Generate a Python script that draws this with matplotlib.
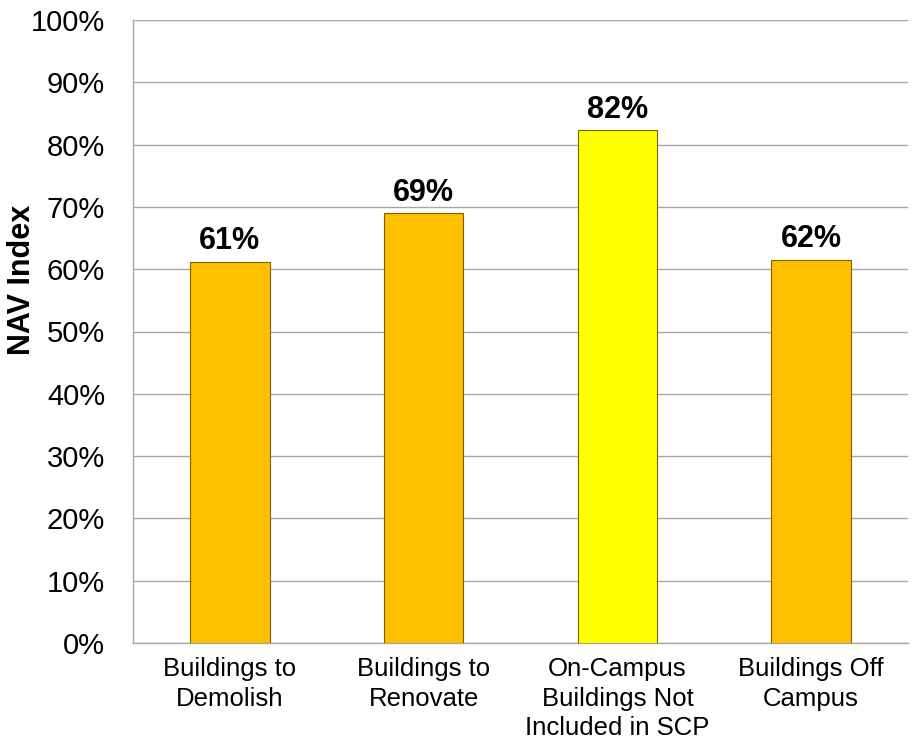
import numpy as np
import matplotlib.pyplot as plt
from matplotlib.ticker import PercentFormatter

plt.rcParams['font.family'] = 'Liberation Sans'

# Data
categories = ['Buildings to\nDemolish', 'Buildings to\nRenovate',
              'On-Campus\nBuildings Not\nIncluded in SCP', 'Buildings Off\nCampus']
nav_index = [61.2, 69.0, 82.3, 61.5]
bar_labels = ['61%', '69%', '82%', '62%']
bar_colors = ['#FFC000', '#FFC000', '#FFFF00', '#FFC000']

fig = plt.figure(figsize=(9.17, 7.39), dpi=100)
ax = fig.add_axes([133 / 917, 1 - 643 / 739, (908 - 133) / 917, (643 - 20) / 739])

positions = np.arange(len(categories))
bars = ax.bar(positions, nav_index, width=0.41, color=bar_colors,
              edgecolor='#7F6000', linewidth=0.8, zorder=3)

for b, lab in zip(bars, bar_labels):
    ax.text(b.get_x() + b.get_width() / 2, b.get_height() + 0.9, lab,
            ha='center', va='bottom', fontsize=22, fontweight='bold')

ax.set_xlim(-0.5, len(categories) - 0.5)
ax.set_ylim(0, 100)
ax.set_yticks(np.arange(0, 101, 10))
ax.yaxis.set_major_formatter(PercentFormatter(decimals=0))
ax.set_xticks(positions)
ax.set_xticklabels(categories, fontsize=18.5, linespacing=1.3)
ax.tick_params(axis='y', labelsize=21, length=0, pad=20)
ax.tick_params(axis='x', length=0, pad=10)
ax.set_ylabel('NAV Index', fontsize=22, fontweight='bold')
ax.yaxis.set_label_coords(37 / 917, 1 - 280 / 739, transform=fig.transFigure)

ax.grid(True, axis='y', color='#A6A6A6', linewidth=1.0, zorder=0)
for s in ['top', 'right']:
    ax.spines[s].set_visible(False)
for s in ['left', 'bottom']:
    ax.spines[s].set_color('#A6A6A6')
    ax.spines[s].set_linewidth(1.0)

plt.savefig('out.png', dpi=100)
